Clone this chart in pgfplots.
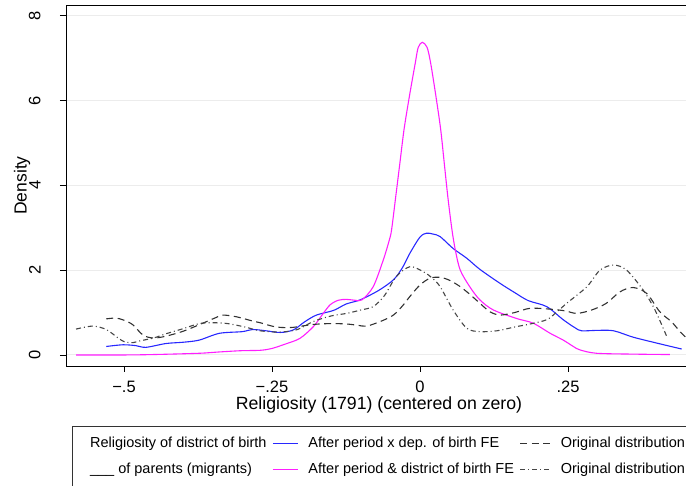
\documentclass[border=0pt]{standalone}
\usepackage{fontspec}
\setmainfont{Liberation Sans}
\usepackage{pgfplots}
\pgfplotsset{compat=1.18}
\definecolor{sblue}{RGB}{40,40,255}
\definecolor{smag}{RGB}{255,30,255}
\definecolor{sdash}{RGB}{50,50,50}
\definecolor{sdd}{RGB}{70,70,70}
\definecolor{sgrid}{RGB}{236,236,236}
\pgfplotsset{
  widelegend/.style={legend image code/.code={\draw[##1] (0pt,0pt) -- (24pt,0pt); \path (0pt,0pt) -- (30.4pt,0pt);}},
}
\begin{document}
\begin{tikzpicture}
\useasboundingbox (0pt,0pt) rectangle (686pt,486pt);
\clip (0pt,0pt) rectangle (686pt,486pt);
\begin{axis}[
  at={(66pt,120pt)}, anchor=south west,
  scale only axis, width=626pt, height=361pt,
  xmin=-0.598, xmax=0.4595, ymin=-0.26, ymax=8.25,
  axis line style={black, line width=0.9pt},
  xtick={-0.5,-0.25,0,0.25}, xticklabels={−.5,−.25,0,.25},
  ytick={0,2,4,6,8}, yticklabels={0,2,4,6,8},
  xtick pos=bottom, ytick pos=left, tick align=outside,
  major tick length=6pt, tick style={black, line width=0.8pt},
  ymajorgrids, grid style={sgrid, line width=1pt},
  ticklabel style={font=\fontsize{16.5}{19}\selectfont},
  xticklabel style={anchor=north, inner sep=0pt, yshift=-9pt},
  yticklabel style={rotate=90, anchor=south, inner sep=0pt, yshift=19.3pt},
  xlabel={Religiosity (1791) (centered on zero)},
  xlabel style={at={(axis description cs:0.5,0)}, anchor=base, yshift=-44pt, font=\fontsize{17.7}{21}\selectfont},
  ylabel={Density},
  ylabel style={at={([xshift=-39.3pt]axis description cs:0,0.5)}, anchor=base, font=\fontsize{17.5}{21}\selectfont},
  legend columns=3, legend cell align=left,
  legend image code/.code={\draw[#1] (0pt,0pt) -- (25.4pt,0pt);},
  legend style={
    at={(axis description cs:0.00958,-0.1654)}, anchor=north west,
    draw=black!80, line width=0.8pt, fill=white,
    font=\fontsize{14.5}{17}\selectfont,
    inner xsep=8.1pt, inner ysep=7.6pt, row sep=7pt,
    nodes={inner sep=0pt, text height=14pt, text depth=5pt},
    /tikz/every odd column/.append style={column sep=9.6pt},
    /tikz/every even column/.append style={column sep=5.8pt},
  },
]
% curves
\addplot[sblue, line width=1.1pt, smooth, forget plot] coordinates {
(-0.530,0.20) (-0.502,0.24) (-0.480,0.22) (-0.463,0.18) (-0.429,0.27) (-0.400,0.30)
(-0.373,0.35) (-0.339,0.51) (-0.300,0.55) (-0.283,0.60) (-0.260,0.57) (-0.236,0.53)
(-0.214,0.59) (-0.195,0.78) (-0.175,0.94) (-0.146,1.05) (-0.125,1.20) (-0.101,1.30)
(-0.070,1.52) (-0.045,1.77) (-0.030,2.05) (-0.017,2.40) (0.000,2.78) (0.011,2.87)
(0.022,2.85) (0.034,2.79) (0.056,2.51) (0.079,2.28) (0.101,2.02) (0.135,1.69)
(0.160,1.47) (0.183,1.28) (0.214,1.14) (0.242,0.83) (0.262,0.64) (0.273,0.57)
(0.300,0.58) (0.327,0.57) (0.360,0.42) (0.400,0.28) (0.442,0.14)
};
\addplot[smag, line width=1.1pt, smooth, forget plot] coordinates {
(-0.581,0.00) (-0.500,0.00) (-0.450,0.01) (-0.373,0.04) (-0.340,0.07) (-0.303,0.10)
(-0.270,0.11) (-0.251,0.15) (-0.229,0.25) (-0.203,0.39) (-0.180,0.67) (-0.165,0.95)
(-0.152,1.18) (-0.138,1.29) (-0.124,1.31) (-0.110,1.29) (-0.098,1.30) (-0.079,1.61)
(-0.062,2.24) (-0.052,2.70) (-0.048,2.95) (-0.041,3.73) (-0.034,4.52) (-0.027,5.31)
(-0.018,6.09) (-0.008,6.88) (-0.003,7.25) (0.004,7.37) (0.012,7.25) (0.018,6.88)
(0.027,6.09) (0.035,5.31) (0.041,4.52) (0.047,3.73) (0.054,2.95) (0.060,2.45)
(0.068,2.00) (0.084,1.61) (0.101,1.30) (0.124,1.06) (0.163,0.86) (0.191,0.75)
(0.220,0.51) (0.242,0.35) (0.259,0.20) (0.270,0.12) (0.298,0.04) (0.360,0.02) (0.422,0.01)
};
\addplot[sdash, line width=1.1pt, dash pattern=on 7pt off 4.5pt, smooth, forget plot] coordinates {
(-0.530,0.85) (-0.514,0.87) (-0.500,0.82) (-0.485,0.71) (-0.468,0.47) (-0.451,0.40)
(-0.430,0.44) (-0.400,0.56) (-0.370,0.73) (-0.345,0.88) (-0.333,0.94) (-0.310,0.90)
(-0.283,0.80) (-0.270,0.76) (-0.250,0.68) (-0.236,0.65) (-0.215,0.65) (-0.180,0.72)
(-0.150,0.74) (-0.124,0.73) (-0.105,0.70) (-0.090,0.68) (-0.065,0.80) (-0.045,0.94)
(-0.030,1.15) (-0.017,1.38) (0.000,1.65) (0.017,1.81) (0.034,1.83) (0.050,1.76)
(0.068,1.61) (0.085,1.42) (0.101,1.22) (0.118,1.02) (0.135,0.94) (0.160,1.00)
(0.186,1.10) (0.220,1.08) (0.245,1.04) (0.265,0.98) (0.290,1.06) (0.315,1.22)
(0.338,1.49) (0.360,1.59) (0.383,1.45) (0.405,1.02) (0.425,0.78) (0.442,0.51) (0.460,0.28)
};
\addplot[sdd, line width=1.1pt, dash pattern=on 5pt off 3pt on 1pt off 3pt, smooth, forget plot] coordinates {
(-0.581,0.61) (-0.553,0.68) (-0.530,0.60) (-0.510,0.40) (-0.499,0.31) (-0.485,0.29)
(-0.474,0.33) (-0.450,0.40) (-0.429,0.50) (-0.400,0.62) (-0.373,0.74) (-0.350,0.76)
(-0.325,0.74) (-0.296,0.66) (-0.270,0.57) (-0.236,0.54) (-0.207,0.60) (-0.180,0.79)
(-0.150,0.92) (-0.124,0.98) (-0.100,1.06) (-0.079,1.14) (-0.060,1.40) (-0.040,1.85)
(-0.017,2.08) (0.006,1.96) (0.020,1.82) (0.034,1.61) (0.056,1.06) (0.079,0.63)
(0.101,0.55) (0.130,0.57) (0.160,0.66) (0.186,0.73) (0.214,0.83) (0.230,1.00)
(0.248,1.22) (0.282,1.61) (0.304,2.00) (0.327,2.12) (0.349,2.00) (0.377,1.53)
(0.397,1.06) (0.417,0.43)
};
% legend
\addlegendimage{empty legend}
\addlegendentry{Religiosity of district of birth\hspace{5.1pt}}
\addlegendimage{sblue, line width=1.1pt}
\addlegendentry{After period x dep. of birth FE}
\addlegendimage{sdash, line width=1.1pt, dash pattern=on 7pt off 4.5pt, widelegend}
\addlegendentry{Original distribution}
\addlegendimage{empty legend}
\addlegendentry{\_\_\_ of parents (migrants)}
\addlegendimage{smag, line width=1.1pt}
\addlegendentry{After period \& district of birth FE}
\addlegendimage{sdd, line width=1.1pt, dash pattern=on 5pt off 3pt on 1pt off 3pt, widelegend}
\addlegendentry{Original distribution}
\end{axis}
\end{tikzpicture}
\end{document}
